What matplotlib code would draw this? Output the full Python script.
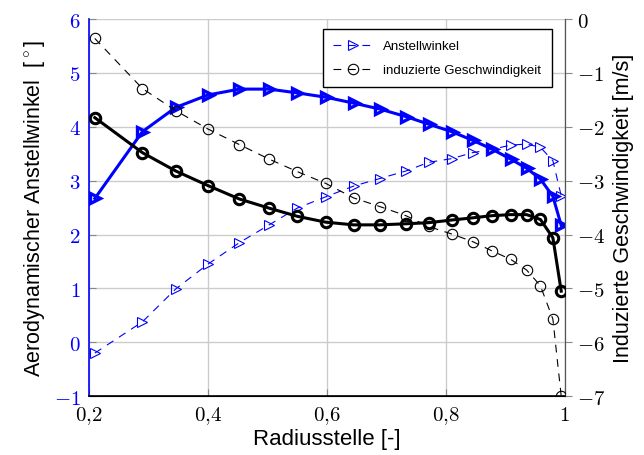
import numpy as np
import matplotlib
matplotlib.use("Agg")
import matplotlib.pyplot as plt
from matplotlib.ticker import FuncFormatter

plt.rcParams['mathtext.fontset'] = 'cm'
plt.rcParams['font.family'] = ['Liberation Sans', 'DejaVu Sans']

# radial positions (r/R)
radius = [0.21, 0.29, 0.346, 0.40, 0.453, 0.503, 0.55, 0.598, 0.645, 0.689,
          0.733, 0.771, 0.81, 0.845, 0.877, 0.909, 0.936, 0.959, 0.98, 0.994]

# angle of attack [deg], left axis
aoa_thick = [2.67, 3.91, 4.36, 4.59, 4.70, 4.70, 4.63, 4.55, 4.44, 4.33,
             4.19, 4.05, 3.91, 3.75, 3.59, 3.40, 3.23, 3.03, 2.71, 2.17]
aoa_dashed = [-0.20, 0.38, 0.99, 1.45, 1.85, 2.18, 2.49, 2.70, 2.90, 3.04,
              3.18, 3.34, 3.41, 3.52, 3.58, 3.66, 3.68, 3.62, 3.37, 2.72]

# induced velocity [m/s], right axis
vind_thick = [-1.83, -2.48, -2.82, -3.09, -3.34, -3.51, -3.66, -3.77, -3.82, -3.82,
              -3.80, -3.78, -3.73, -3.69, -3.65, -3.63, -3.63, -3.72, -4.06, -5.05]
vind_dashed = [-0.36, -1.29, -1.70, -2.04, -2.33, -2.60, -2.83, -3.05, -3.32, -3.48,
               -3.65, -3.85, -3.99, -4.13, -4.30, -4.46, -4.66, -4.95, -5.57, -7.0]

xticks = [0.2, 0.4, 0.6, 0.8, 1.0]
blue = (0, 0, 1)

def fmt(v, pos):
    s = ('%g' % round(v, 2)).replace('.', '{,}')
    return '$' + s + '$'

fig = plt.figure(figsize=(6.44, 4.56), dpi=100)
ax = fig.add_axes([0.138, 0.129, 0.739, 0.827])
ax2 = ax.twinx()

ax.plot(radius, aoa_thick, color=blue, lw=2.2, marker='>', ms=6.5,
        mfc='none', mew=2.4, zorder=3)
l1, = ax.plot(radius, aoa_dashed, color=blue, lw=0.8, ls=(0, (7, 6)), marker='>',
              ms=7, mfc='none', mew=0.8, label='Anstellwinkel', zorder=3)

ax2.plot(radius, vind_thick, color='black', lw=2.2, marker='o', ms=7.5,
         mfc='none', mew=2.2, zorder=3)
l2, = ax2.plot(radius, vind_dashed, color='black', lw=0.8, ls=(0, (7, 6)), marker='o',
               ms=7.5, mfc='none', mew=0.8, label='induzierte Geschwindigkeit', zorder=3)

ax.set_xlim(0.2, 1.0)
ax.set_ylim(-1, 6)
ax2.set_ylim(-7, 0)
ax.set_xticks(xticks)
ax.set_yticks(range(-1, 7))
ax2.set_yticks(range(-7, 1))
ax.xaxis.set_major_formatter(FuncFormatter(fmt))
ax.yaxis.set_major_formatter(FuncFormatter(fmt))
ax2.yaxis.set_major_formatter(FuncFormatter(fmt))

ax.grid(True, color='#cccccc', lw=1)
ax.tick_params(axis='x', direction='in', length=5, color='#888888', labelsize=15, pad=6)
ax.tick_params(axis='y', direction='in', length=5, color='#888888', labelsize=15,
               labelcolor=blue, pad=6)
ax2.tick_params(axis='y', direction='out', length=5, color='#888888', labelsize=15, pad=4)

for a in (ax, ax2):
    a.spines['top'].set_visible(False)
ax2.spines['left'].set_color(blue)
ax2.spines['left'].set_linewidth(1.2)
ax2.spines['right'].set_color('#555555')
ax2.spines['bottom'].set_color('black')
ax2.spines['bottom'].set_linewidth(1.2)
ax.spines['left'].set_visible(False)

ax.set_xlabel('Radiusstelle [-]', fontsize=16, labelpad=1)
ax.set_ylabel(r'Aerodynamischer Anstellwinkel  [$^\circ$]', fontsize=15.5, labelpad=5)
ax2.set_ylabel('Induzierte Geschwindigkeit [m/s]', fontsize=15.5, labelpad=5)

leg = ax2.legend(handles=[l1, l2], loc='upper right', bbox_to_anchor=(0.987, 0.99),
                 fontsize=9.5, fancybox=False, edgecolor='black', framealpha=1,
                 handlelength=3, borderpad=0.8, labelspacing=0.9)
leg.get_frame().set_linewidth(1.0)

fig.savefig('out.png', dpi=100)
